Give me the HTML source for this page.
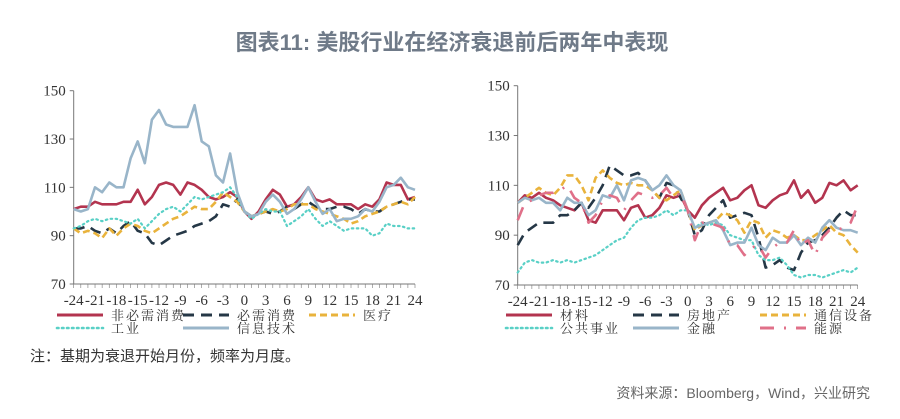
<!DOCTYPE html>
<html><head><meta charset="utf-8"><style>
body{margin:0;background:#fff;width:900px;height:414px;overflow:hidden}
svg text{font-family:"Liberation Serif","Noto Serif CJK SC",serif}
</style></head><body>
<svg width="900" height="414" viewBox="0 0 900 414" xmlns="http://www.w3.org/2000/svg">
<text x="452" y="50" text-anchor="middle" font-size="22" font-weight="bold" fill="#6f7a88" style="font-family:'Liberation Sans','Noto Sans CJK SC',sans-serif">图表11: 美股行业在经济衰退前后两年中表现</text>
<g id="left"></g>
<g id="right"></g>
<text x="30" y="361" font-size="15" fill="#333" style="font-family:'Liberation Sans','Noto Sans CJK SC',sans-serif">注：基期为衰退开始月份，频率为月度。</text>
<text x="870" y="398" text-anchor="end" font-size="14" fill="#666" style="font-family:'Liberation Sans','Noto Sans CJK SC',sans-serif">资料来源：Bloomberg，Wind，兴业研究</text>
</svg>
<script>
const months=[];for(let m=-24;m<=24;m++)months.push(m);
const yTicks=[70,90,110,130,150];
const xTickLabels=[-24,-21,-18,-15,-12,-9,-6,-3,0,3,6,9,12,15,18,21,24];
const L1=[101,102,102,104,103,103,103,104,104,109,103,106,111,112,111,107,112,111,109,106,105,106,108,106,100,97,100,105,109,107,102,103,106,110,105,104,105,103,103,103,101,103,102,105,112,111,111,105,106];
const L2=[93,93,94,92,91,93,91,94,96,92,91,87,86,88,90,91,92,94,95,96,98,103,102,105,100,98,99,100,99,100,102,101,103,104,102,101,101,102,102,101,99,101,100,100,102,103,104,105,105];
const L3=[93,91,92,91,89,93,90,93,95,94,92,91,93,95,97,98,100,102,101,101,104,108,106,104,100,98,99,100,101,100,101,103,103,103,101,100,99,98,97,95,96,98,99,100,102,103,104,103,106];
const L4=[93,94,96,97,96,97,97,96,95,97,93,96,99,101,102,100,103,106,105,106,107,108,110,106,100,97,99,101,100,100,94,96,98,101,97,94,96,94,92,93,93,93,90,91,95,94,94,93,93];
const L5=[101,100,101,110,108,112,110,110,122,129,120,138,142,136,135,135,135,144,129,127,115,112,124,108,100,98,99,104,107,104,99,101,105,110,104,99,101,96,97,97,98,101,100,104,110,111,114,110,109];
const R1=[103,106,105,107,105,104,102,101,100,103,96,95,100,100,100,96,101,102,97,98,101,106,105,106,100,97,102,105,107,109,104,105,108,110,102,101,104,106,107,112,105,108,103,105,111,110,112,108,110];
const R2=[86,91,93,95,95,95,98,98,100,103,101,105,110,118,116,114,114,115,112,108,105,111,110,105,100,90,92,98,101,104,97,98,99,98,89,77,78,80,77,76,83,87,88,90,93,97,100,98,98];
const R3=[103,105,107,109,107,106,109,114,114,110,104,113,116,113,111,110,111,110,110,108,105,104,106,108,100,92,94,95,96,99,98,96,91,96,95,89,92,91,89,90,88,88,90,92,94,91,90,86,83];
const R4=[75,79,80,79,79,80,79,80,79,80,81,82,84,86,88,89,93,96,97,97,98,100,98,100,100,93,95,94,95,94,90,89,88,88,82,80,80,81,78,74,73,74,74,73,74,75,76,75,77];
const R5=[103,105,104,105,103,103,100,105,103,103,98,100,106,105,110,104,112,113,112,108,110,114,110,108,100,93,94,95,96,92,86,87,87,93,86,84,89,87,87,90,86,89,87,93,96,93,92,92,91];
const R6=[96,103,104,106,107,107,108,110,105,103,95,98,104,106,105,100,104,107,106,105,106,109,105,107,100,88,95,95,94,93,86,86,82,85,86,81,85,87,87,92,86,88,82,89,92,92,93,95,102];
const leftNames=["非必需消费","必需消费","医疗","工业","信息技术"];
const rightNames=["材料","房地产","通信设备","公共事业","金融","能源"];
const NS="http://www.w3.org/2000/svg";
function mk(p,t,a){const e=document.createElementNS(NS,t);for(const k in a)e.setAttribute(k,a[k]);p.appendChild(e);return e;}
const styles={
 red:{stroke:"#b3344f",w:2.6,d:""},
 dark:{stroke:"#253746",w:2.6,d:"11,7"},
 gold:{stroke:"#e9b33c",w:2.6,d:"7,4"},
 teal:{stroke:"#59d0c6",w:2.2,d:"1.5,3.5",cap:"round"},
 blue:{stroke:"#99b5c9",w:2.6,d:""},
 pink:{stroke:"#e07089",w:2.6,d:"14,10,2,10"}
};
function chart(g,x0,x1,yTop,yBot,series,names,stys,leg){
 const sx=m=>x0+(m+24)/48*(x1-x0);
 const sy=v=>yBot-(v-70)/80*(yBot-yTop);
 let e=mk(g,"line",{x1:x0,y1:yTop,x2:x0,y2:yBot,stroke:"#777","stroke-width":1});
 
 e=mk(g,"line",{x1:x0,y1:yBot,x2:x1,y2:yBot,stroke:"#777","stroke-width":1});
 
 yTicks.forEach(v=>{
  const t=mk(g,"text",{x:x0-8,y:sy(v)+5,"text-anchor":"end","font-size":15,fill:"#333"});t.textContent=v;
  
  mk(g,"line",{x1:x0-4,y1:sy(v),x2:x0,y2:sy(v),stroke:"#777"});
 });
 months.forEach(m=>mk(g,"line",{x1:sx(m),y1:yBot,x2:sx(m),y2:yBot+4,stroke:"#777","stroke-width":0.6}));
 xTickLabels.forEach(m=>{
  const t=mk(g,"text",{x:sx(m),y:yBot+21,"text-anchor":"middle","font-size":15,fill:"#333"});t.textContent=m;
  
 });
 series.forEach((s,i)=>{
  const st=styles[stys[i]];
  const pts=s.map((v,j)=>sx(months[j]).toFixed(1)+","+sy(v).toFixed(1)).join(" ");
  const p=mk(g,"polyline",{points:pts,fill:"none",stroke:st.stroke,"stroke-width":st.w,"stroke-dasharray":st.d,"stroke-linecap":st.cap||"butt","stroke-linejoin":"round"});
  
 });
 names.forEach((n,i)=>{
  const st=styles[stys[i]];const col=i%3,row=Math.floor(i/3);
  const lx=leg.x+col*leg.dx,ly=leg.y+row*13;
  const item=mk(g,"g",{});
  
  mk(item,"line",{x1:lx,y1:ly,x2:lx+46,y2:ly,stroke:st.stroke,"stroke-width":st.w+0.4,"stroke-dasharray":st.d,"stroke-linecap":st.cap||"butt"});
  const t=mk(item,"text",{x:lx+54,y:ly+5,"font-size":13,fill:"#333","letter-spacing":"2"});t.textContent=n;
 });
}
chart(document.getElementById('left'),73.7,415,90.7,284,[L1,L2,L3,L4,L5],leftNames,["red","dark","gold","teal","blue"],{x:57,y:315,dx:126});
chart(document.getElementById('right'),517.7,857.7,85.7,285,[R1,R2,R3,R4,R5,R6],rightNames,["red","dark","gold","teal","blue","pink"],{x:506,y:315,dx:127});
</script>
</body></html>
